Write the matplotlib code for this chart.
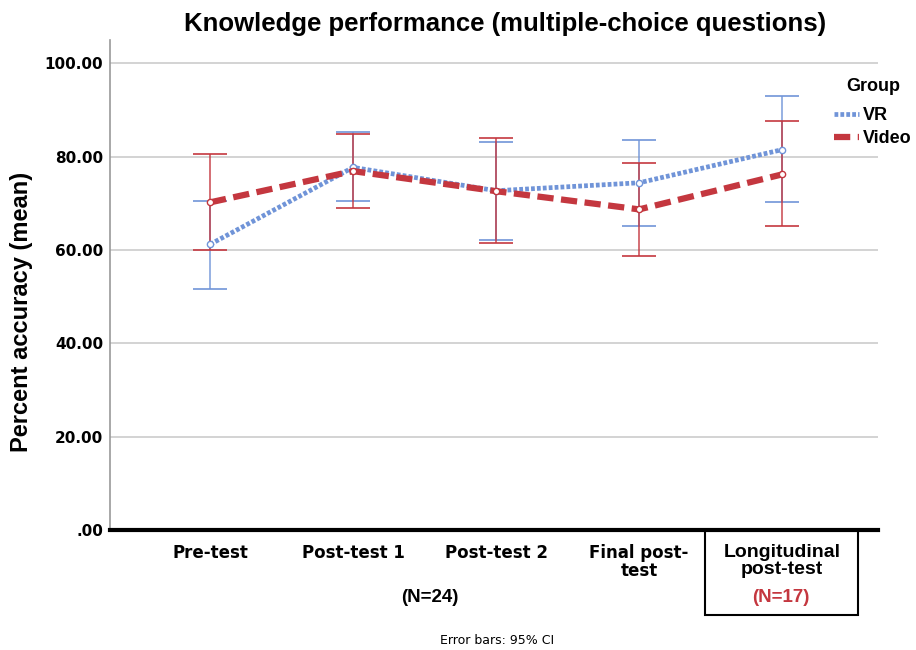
import matplotlib
matplotlib.use("Agg")
import matplotlib.pyplot as plt
from matplotlib.patches import Rectangle
from matplotlib.lines import Line2D

categories = ["Pre-test", "Post-test 1", "Post-test 2", "Final post-\ntest", "Longitudinal\npost-test"]
vr_mean = [61.2, 77.7, 72.7, 74.4, 81.5]
vr_low = [51.6, 70.5, 62.2, 65.2, 70.3]
vr_high = [70.6, 85.2, 83.1, 83.5, 93.0]
video_mean = [70.2, 76.9, 72.6, 68.7, 76.2]
video_low = [59.9, 68.9, 61.5, 58.7, 65.1]
video_high = [80.5, 84.8, 84.0, 78.7, 87.6]
yticks = [0, 20, 40, 60, 80, 100]
ytick_labels = [".00", "20.00", "40.00", "60.00", "80.00", "100.00"]

VR_COLOR = "#7094d8"
VIDEO_COLOR = "#c4373f"

fig = plt.figure(figsize=(9.16, 6.5), dpi=100)
ax = fig.add_axes([0.120, 0.1846, 0.8385, 0.7539])

x = list(range(len(categories)))

handles = []
for mean, low, high, color, ls, lw, label in [
    (vr_mean, vr_low, vr_high, VR_COLOR, (0, (0.8, 0.45)), 3.4, "VR"),
    (video_mean, video_low, video_high, VIDEO_COLOR, (0, (2.6, 1.2)), 4.5, "Video"),
]:
    yerr = [[m - l for m, l in zip(mean, low)], [h - m for m, h in zip(mean, high)]]
    ax.errorbar(x, mean, yerr=yerr, fmt="none", ecolor=color, elinewidth=1.2,
                capsize=12.5, capthick=1.4, alpha=0.85, zorder=3)
    ax.plot(x, mean, color=color, linestyle=ls, linewidth=lw,
            marker="o", markersize=4.5, markerfacecolor="white",
            markeredgecolor=color, markeredgewidth=1, zorder=4)
    handles.append(Line2D([], [], color=color, linestyle=ls, linewidth=lw, label=label))

ax.set_xlim(-0.7, 4.67)
ax.set_ylim(0, 105)
ax.set_yticks(yticks)
ax.set_yticklabels(ytick_labels, fontsize=11, fontweight="bold", family="DejaVu Sans")
ax.tick_params(axis="y", length=0, pad=5)
ax.grid(axis="y", color="#cccccc", linewidth=1.2)
ax.set_axisbelow(True)

ax.set_xticks(x)
ax.set_xticklabels(categories, fontsize=12, fontweight="bold", family="DejaVu Sans",
                   linespacing=1.0)
ax.tick_params(axis="x", length=0, pad=10)
last = ax.get_xticklabels()[-1]
last.set_family("Liberation Sans")
last.set_fontsize(14)

for side in ["top", "right"]:
    ax.spines[side].set_visible(False)
ax.spines["left"].set_color("#999999")
ax.spines["left"].set_linewidth(1.2)
ax.spines["bottom"].set_color("black")
ax.spines["bottom"].set_linewidth(3)

fig.text(22 / 916, 1 - 312 / 650, "Percent accuracy (mean)", rotation=90,
         ha="center", va="center", fontsize=17, fontweight="bold", family="Liberation Sans")

fig.text(505 / 916, 1 - 24 / 650, "Knowledge performance (multiple-choice questions)",
         ha="center", va="center", fontsize=18.5, fontweight="bold", family="Liberation Sans")

leg = ax.legend(handles=handles, title="Group", loc="upper left",
                frameon=False, handlelength=1.4, handletextpad=0.2,
                borderaxespad=0, borderpad=0, labelspacing=0.3,
                prop={"family": "Liberation Sans", "weight": "bold", "size": 13})
leg.get_title().set_fontweight("bold")
leg.get_title().set_family("Liberation Sans")
leg.get_title().set_fontsize(13)
leg._legend_box.align = "center"
leg._legend_box.sep = 9
leg.set_bbox_to_anchor((834 / 916, 1 - 78 / 650), transform=fig.transFigure)

fig.text(430 / 916, 1 - 598 / 650, "(N=24)", ha="center", va="center",
         fontsize=13.5, fontweight="bold", family="Liberation Sans")
fig.text(781 / 916, 1 - 598 / 650, "(N=17)", ha="center", va="center",
         fontsize=13.5, fontweight="bold", family="Liberation Sans", color="#c4373f")
fig.patches.append(Rectangle((705 / 916, 1 - 615 / 650), 153 / 916, 85 / 650,
                             transform=fig.transFigure, fill=False,
                             edgecolor="black", linewidth=1.5))
fig.text(497 / 916, 1 - 640 / 650, "Error bars: 95% CI", ha="center", va="center",
         fontsize=9, family="DejaVu Sans")

fig.savefig("out.png", dpi=100)
